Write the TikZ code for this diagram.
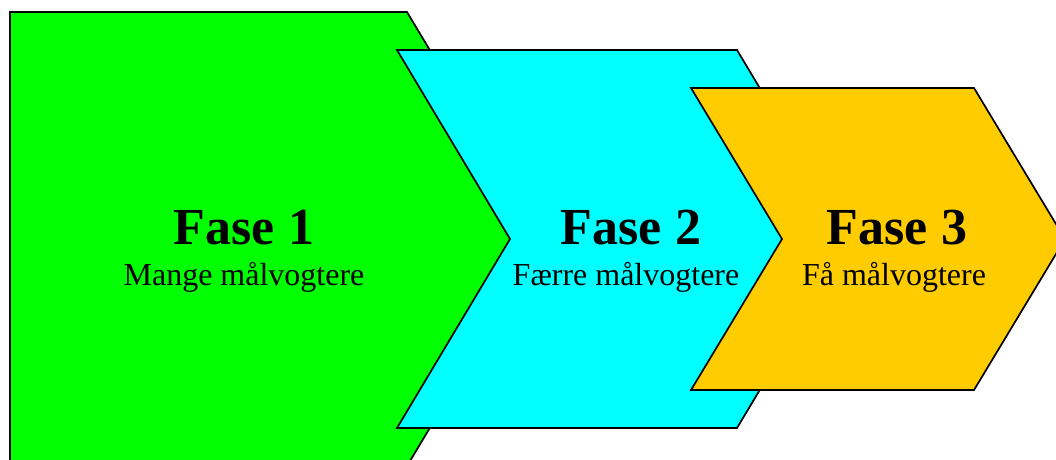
\documentclass[tikz,border=0pt]{standalone}
\usepackage{fontspec}
\setmainfont{Liberation Serif}
\definecolor{fgreen}{HTML}{00FF00}
\definecolor{fcyan}{HTML}{00FFFF}
\definecolor{forange}{HTML}{FFCC00}
\begin{document}
\begin{tikzpicture}[x=1pt,y=-1pt,
  phase/.style={draw=black,line width=1.7pt,line join=miter},
  titletext/.style={anchor=base,inner sep=0pt,font=\fontsize{52}{60}\selectfont\bfseries},
  subtext/.style={anchor=base,inner sep=0pt,font=\fontsize{32}{38}\selectfont}]
\useasboundingbox (0,0) rectangle (1056,459);
\begin{scope}
\clip (0,0) rectangle (1056,459);
% Fase 1
\path[phase,fill=fgreen] (10,12) -- (407,12) -- (543,239) -- (407,466) -- (10,466) -- cycle;
% Fase 2
\path[phase,fill=fcyan] (397,50) -- (737,50) -- (850,239) -- (737,428) -- (397,428) -- (510,239) -- cycle;
% Fase 3
\path[phase,fill=forange] (691,88) -- (974,88) -- (1065,239) -- (974,390) -- (691,390) -- (782,239) -- cycle;
\end{scope}
\node[titletext] (t1) at (244,244) {Fase 1};
\node[subtext] (s1) at (244,285) {Mange målvogtere};
\node[titletext] (t2) at (631,244) {Fase 2};
\node[subtext] (s2) at (626,285) {Færre målvogtere};
\node[titletext] (t3) at (897,244) {Fase 3};
\node[subtext] (s3) at (894,285) {Få målvogtere};
\end{tikzpicture}
\end{document}
